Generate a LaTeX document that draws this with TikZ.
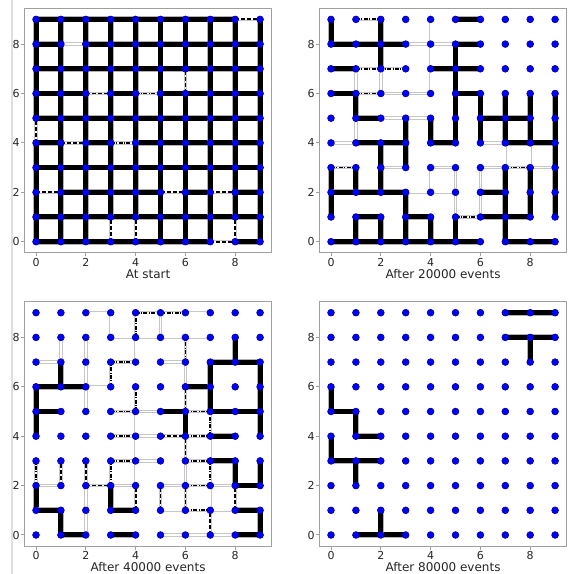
\documentclass[tikz,border=0pt]{standalone}
\usepackage{fontspec}
\setmainfont{DejaVu Sans}
\definecolor{dotblue}{RGB}{0,0,255}
\definecolor{dotedge}{RGB}{0,0,150}

\begin{document}
\begin{tikzpicture}[x=0.5pt, y=0.5pt,
  frame/.style={draw=gray!75, line width=0.5pt},
  ticklabel/.style={font=\fontsize{5.5}{6}\selectfont, text=black!85, inner sep=0pt},
  paneltitle/.style={font=\fontsize{6}{7}\selectfont, text=black!85, inner sep=0pt},
  dot/.style={circle, fill=dotblue, draw=dotedge, line width=0.3pt, minimum size=3.4pt, inner sep=0pt},
  strong/.style={draw=black, line width=2.5pt, line cap=round, preaction={draw=gray!60, line width=2.9pt, line cap=round}},
  soft/.style={preaction={draw=gray!45, line width=1.7pt}, draw=white, line width=0.9pt},
  softdash/.style={soft, postaction={draw=black, line width=0.9pt, dash pattern=on 2pt off 1pt}},
  softdashdot/.style={soft, postaction={draw=black, line width=0.9pt, dash pattern=on 2pt off 0.7pt on 0.5pt off 0.7pt}},
]
\useasboundingbox (0,0) rectangle (568,574);
\draw[gray!25, line width=0.6pt] (12,0) -- (12,574);

% four panels: frame, ticks, title, grid coordinates
\foreach \P/\X/\Y/\T in {A/36/332.3/At start, B/331/332.3/After 20000 events,
                         C/36/39/After 40000 events, D/331/39/After 80000 events}{
  \begin{scope}[shift={(\X*0.5pt,\Y*0.5pt)}, x=12.45pt, y=12.35pt]
    \foreach \i in {0,...,9}
      \foreach \j in {0,...,9}
        \coordinate (\P-\i-\j) at (\i,\j);
    \draw[frame] (-0.45,-0.45) rectangle (9.45,9.45);
    \foreach \tk in {0,2,...,8}{
      \draw[frame] (\tk,-0.45) -- ++(0,-1.75pt) node[below=0.6pt, ticklabel] (\P-xt\tk) {\tk};
      \draw[frame] (-0.45,\tk) -- ++(-1.75pt,0) node[left=0.6pt, ticklabel] (\P-yt\tk) {\tk};
    }
    \node[paneltitle, yshift=-10.5pt] (\P-title) at (4.5,-0.45) {\T};
  \end{scope}
}

% At start
\foreach \p/\q in {1-8/2-8} \draw[soft] (A-\p) -- (A-\q);
\foreach \p/\q in {8-9/9-9, 6-6/6-7, 2-6/3-6, 0-4/0-5, 1-4/2-4, 0-2/1-2, 5-2/6-2,
                   7-2/8-2, 3-0/3-1, 4-0/4-1, 8-0/8-1, 7-0/8-0}
  \draw[softdash] (A-\p) -- (A-\q);
\foreach \p/\q in {4-6/5-6, 3-4/4-4} \draw[softdashdot] (A-\p) -- (A-\q);
\foreach \p/\q in {0-9/8-9, 0-8/1-8, 2-8/9-8, 0-7/9-7, 0-6/2-6, 3-6/4-6, 5-6/9-6,
                   0-5/9-5, 0-4/1-4, 2-4/3-4, 4-4/9-4, 0-3/9-3, 1-2/5-2, 6-2/7-2,
                   8-2/9-2, 0-1/9-1, 0-0/7-0, 8-0/9-0, 0-0/0-4, 0-5/0-9, 1-0/1-9,
                   2-0/2-9, 3-1/3-9, 4-1/4-9, 5-0/5-9, 6-0/6-6, 6-7/6-9, 7-0/7-9,
                   8-1/8-9, 9-0/9-9}
  \draw[strong] (A-\p) -- (A-\q);

% After 20000 events
\foreach \p/\q in {4-6/4-9, 3-8/5-8, 1-6/1-7, 2-6/2-7, 2-6/4-6, 1-4/1-5, 2-5/4-5,
                   0-4/1-4, 6-4/7-4, 2-3/3-3, 4-3/5-3, 6-3/7-3, 8-3/9-3, 7-3/7-4,
                   8-3/8-4, 4-2/4-3, 5-1/5-3, 6-1/6-3, 3-2/5-2}
  \draw[soft] (B-\p) -- (B-\q);
\foreach \p/\q in {1-9/2-9, 1-7/3-7, 1-6/2-6, 0-3/1-3, 7-3/8-3, 5-1/6-1}
  \draw[softdashdot] (B-\p) -- (B-\q);
\foreach \p/\q in {0-8/0-9, 2-7/2-9, 5-9/6-9, 0-8/3-8, 5-8/6-8, 5-4/5-8, 0-7/1-7,
                   4-7/6-7, 0-6/1-6, 5-6/6-6, 1-5/1-6, 6-4/6-6, 7-4/7-6, 8-4/8-6,
                   9-1/9-6, 1-5/2-5, 6-5/8-5, 3-3/3-5, 4-4/4-5, 1-4/3-4, 4-4/5-4,
                   7-4/9-4, 2-2/2-4, 0-1/0-3, 1-2/1-3, 7-0/7-3, 8-1/8-3, 0-2/3-2,
                   6-2/7-2, 3-0/3-2, 1-1/2-1, 3-1/4-1, 6-1/8-1, 1-0/1-1, 2-0/2-1,
                   4-0/4-1, 5-0/5-1, 0-0/6-0, 7-0/9-0}
  \draw[strong] (B-\p) -- (B-\q);

% After 40000 events
\foreach \p/\q in {2-9/3-9, 6-9/7-9, 3-8/3-9, 5-8/5-9, 3-8/7-8, 1-7/1-8, 2-7/2-8,
                   4-7/4-8, 0-7/1-7, 5-7/6-7, 2-5/2-7, 6-6/6-7, 2-6/3-6, 4-5/5-5,
                   4-3/4-5, 4-4/5-4, 4-3/5-3, 7-3/7-4, 4-2/4-3, 6-2/6-3, 0-2/1-2,
                   3-2/4-2, 5-2/6-2, 7-2/8-2, 7-1/7-2, 5-1/6-1, 7-1/8-1, 2-0/2-2,
                   5-0/8-0}
  \draw[soft] (C-\p) -- (C-\q);
\foreach \p/\q in {6-5/6-6, 5-4/6-4, 6-3/6-4, 1-2/1-3, 2-2/2-3, 2-2/3-2, 4-1/4-2,
                   5-1/5-2, 6-1/6-2, 8-1/8-2, 7-0/7-1}
  \draw[softdash] (C-\p) -- (C-\q);
\foreach \p/\q in {4-9/6-9, 4-8/4-9, 6-7/6-8, 3-7/4-7, 3-6/3-7, 4-5/4-6, 3-5/4-5,
                   6-5/7-5, 7-4/7-5, 3-4/4-4, 6-4/7-4, 3-3/4-3, 6-3/7-3, 0-2/0-3,
                   3-2/3-3, 7-2/7-3, 6-2/7-2, 6-1/7-1}
  \draw[softdashdot] (C-\p) -- (C-\q);
\foreach \p/\q in {0-6/2-6, 1-6/1-7, 0-4/0-6, 0-5/1-5, 6-6/7-6, 7-5/7-7, 7-7/9-7,
                   8-7/8-8, 9-4/9-7, 5-5/6-5, 7-5/9-5, 6-4/6-5, 7-4/8-4, 7-3/8-3,
                   8-2/8-3, 9-2/9-3, 8-2/9-2, 0-1/0-2, 0-1/1-1, 1-0/1-1, 1-0/2-0,
                   3-1/3-2, 3-1/4-1, 3-0/4-0, 8-1/9-1, 9-0/9-1, 8-0/9-0}
  \draw[strong] (C-\p) -- (C-\q);

% After 80000 events
\foreach \p/\q in {7-9/9-9, 7-8/9-8, 8-7/8-8, 0-5/0-6, 0-5/1-5, 1-4/1-5, 1-4/2-4,
                   0-3/0-4, 0-3/2-3, 1-2/1-3, 1-0/3-0, 2-0/2-1}
  \draw[strong] (D-\p) -- (D-\q);

% sites on top
\foreach \P in {A,B,C,D}
  \foreach \i in {0,...,9}
    \foreach \j in {0,...,9}
      \node[dot] (\P-s-\i-\j) at (\P-\i-\j) {};
\end{tikzpicture}
\end{document}
